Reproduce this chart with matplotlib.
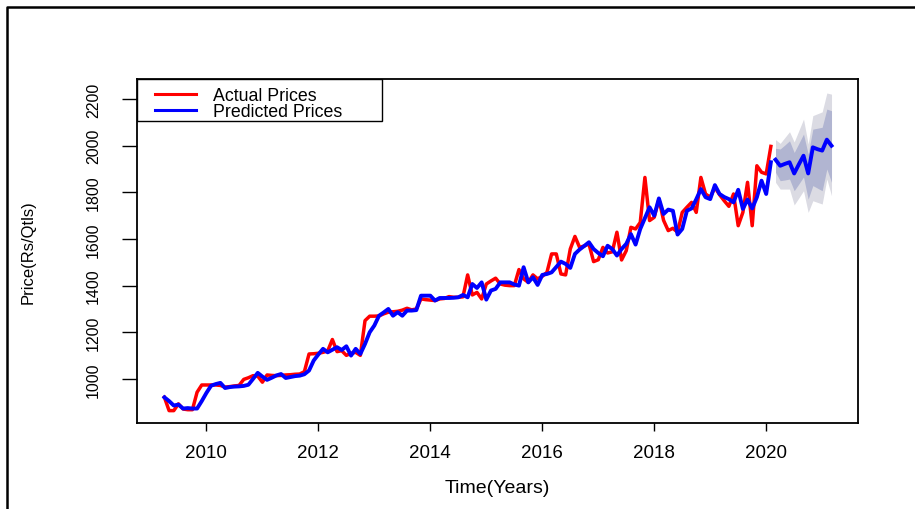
import numpy as np
import matplotlib
matplotlib.use("Agg")
from matplotlib import pyplot as plt
from matplotlib.lines import Line2D
from matplotlib.patches import Rectangle

plt.rcParams["font.family"] = ["Liberation Sans", "DejaVu Sans"]

# monthly series, starting April 2009
start_year = 2009.25

actual = [
    921, 864, 864, 893, 871, 868, 868, 943, 974, 974,
    974, 974, 972, 965, 967, 970, 972, 998, 1005, 1014,
    1012, 986, 1017, 1015, 1014, 1015, 1017, 1018, 1020, 1021,
    1031, 1107, 1108, 1110, 1114, 1120, 1169, 1117, 1121, 1101,
    1110, 1114, 1101, 1250, 1269, 1269, 1270, 1279, 1286, 1288,
    1290, 1295, 1303, 1296, 1300, 1343, 1340, 1338, 1336, 1343,
    1345, 1353, 1350, 1350, 1352, 1446, 1360, 1371, 1343, 1407,
    1420, 1432, 1407, 1402, 1400, 1400, 1469, 1429, 1414, 1446,
    1429, 1440, 1457, 1536, 1536, 1450, 1446, 1557, 1611, 1564,
    1570, 1579, 1503, 1511, 1564, 1540, 1545, 1629, 1510, 1550,
    1650, 1643, 1671, 1864, 1679, 1693, 1771, 1680, 1636, 1646,
    1629, 1714, 1736, 1757, 1714, 1864, 1793, 1779, 1821, 1790,
    1764, 1740, 1793, 1657, 1714, 1843, 1657, 1914, 1886, 1879,
    1997,
]

predicted = [
    921, 905, 886, 890, 873, 875, 873, 873, 905, 940,
    971, 978, 983, 961, 965, 967, 968, 970, 975, 1000,
    1026, 1010, 996, 1005, 1015, 1021, 1004, 1008, 1012, 1014,
    1020, 1036, 1079, 1105, 1129, 1114, 1125, 1136, 1124, 1140,
    1100, 1129, 1107, 1150, 1200, 1229, 1271, 1285, 1300, 1271,
    1286, 1271, 1293, 1293, 1295, 1357, 1357, 1357, 1336, 1347,
    1347, 1347, 1348, 1350, 1360, 1350, 1407, 1390, 1414, 1340,
    1379, 1386, 1414, 1414, 1414, 1405, 1400, 1479, 1414, 1436,
    1403, 1446, 1450, 1457, 1480, 1503, 1493, 1476, 1536, 1555,
    1570, 1586, 1557, 1540, 1526, 1571, 1557, 1529, 1557, 1579,
    1621, 1576, 1643, 1690, 1736, 1700, 1774, 1707, 1726, 1721,
    1619, 1643, 1721, 1731, 1770, 1814, 1779, 1771, 1831, 1793,
    1780, 1771, 1757, 1811, 1729, 1769, 1731, 1779, 1850, 1793,
    1929,
]

# forecast for the 13 months after the data
forecast = [1940, 1914, 1922, 1929, 1881, 1920, 1957, 1881, 1993, 1985, 1979, 2026, 2000]
hi95 = [2026, 2010, 2035, 2060, 2016, 2065, 2114, 2007, 2129, 2137, 2145, 2226, 2221]
hi80 = [1989, 1986, 2003, 2021, 1971, 2010, 2050, 1964, 2071, 2075, 2079, 2157, 2150]
lo80 = [1886, 1850, 1853, 1857, 1807, 1836, 1866, 1771, 1829, 1818, 1807, 1900, 1843]
lo95 = [1843, 1814, 1814, 1814, 1746, 1776, 1807, 1714, 1764, 1757, 1750, 1857, 1786]

x_ticks = [2010, 2012, 2014, 2016, 2018, 2020]
y_ticks = [1000, 1200, 1400, 1600, 1800, 2000, 2200]


def main():
    t_hist = start_year + np.arange(len(actual)) / 12
    t_fc = start_year + (len(actual) + np.arange(len(forecast))) / 12

    fig = plt.figure(figsize=(9.15, 5.10), dpi=100)
    ax = fig.add_axes([137 / 915, 1 - 424 / 510, 721 / 915, 344 / 510])

    # prediction intervals
    ax.fill_between(t_fc, lo95, hi95, color="#dbdbe3", linewidth=0)
    ax.fill_between(t_fc, lo80, hi80, color="#b1b5d1", linewidth=0)

    ax.plot(t_hist, actual, color="#ff0000", linewidth=2.5)
    ax.plot(t_hist, predicted, color="#0000ff", linewidth=2.8)
    ax.plot(t_fc, forecast, color="#0000ff", linewidth=2.8)

    ax.set_xlim(2008.76, 2021.64)
    ax.set_ylim(811, 2286)
    ax.set_xticks(x_ticks)
    ax.set_yticks(y_ticks)
    ax.tick_params(axis="x", length=5.8, width=1, pad=9.5, labelsize=13.5)
    ax.tick_params(axis="y", length=10.8, width=1, pad=15, labelsize=11.5,
                   labelrotation=90)
    for lab in ax.get_yticklabels():
        lab.set_va("center")
    for sp in ax.spines.values():
        sp.set_linewidth(1.3)

    ax.set_xlabel("Time(Years)", fontsize=14)
    ax.xaxis.set_label_coords(0.5, -0.163)
    ax.set_ylabel("Price(Rs/Qtls)", fontsize=12)
    ax.yaxis.set_label_coords(-0.14, 0.5)

    # legend box
    ax.add_patch(Rectangle((0, 1 - 42 / 344), 245 / 721, 42 / 344,
                           transform=ax.transAxes, facecolor="white",
                           edgecolor="black", linewidth=1, zorder=4.5))
    handles = [Line2D([], [], color="#ff0000", linewidth=2.2),
               Line2D([], [], color="#0000ff", linewidth=2.2)]
    ax.legend(handles, ["Actual Prices", "Predicted Prices"],
              loc="upper left", bbox_to_anchor=(18 / 721, (424 - 88) / 344),
              frameon=False, borderpad=0, fontsize=12.8, handlelength=2.3,
              handletextpad=0.95, labelspacing=-0.06, borderaxespad=0)

    # outer frame (left and top only)
    fig.add_artist(Line2D([7 / 915, 7 / 915, 1], [0, 1 - 8 / 510, 1 - 8 / 510],
                          transform=fig.transFigure, color="black",
                          linewidth=1.8))

    fig.savefig("out.png", dpi=100)


if __name__ == "__main__":
    main()
